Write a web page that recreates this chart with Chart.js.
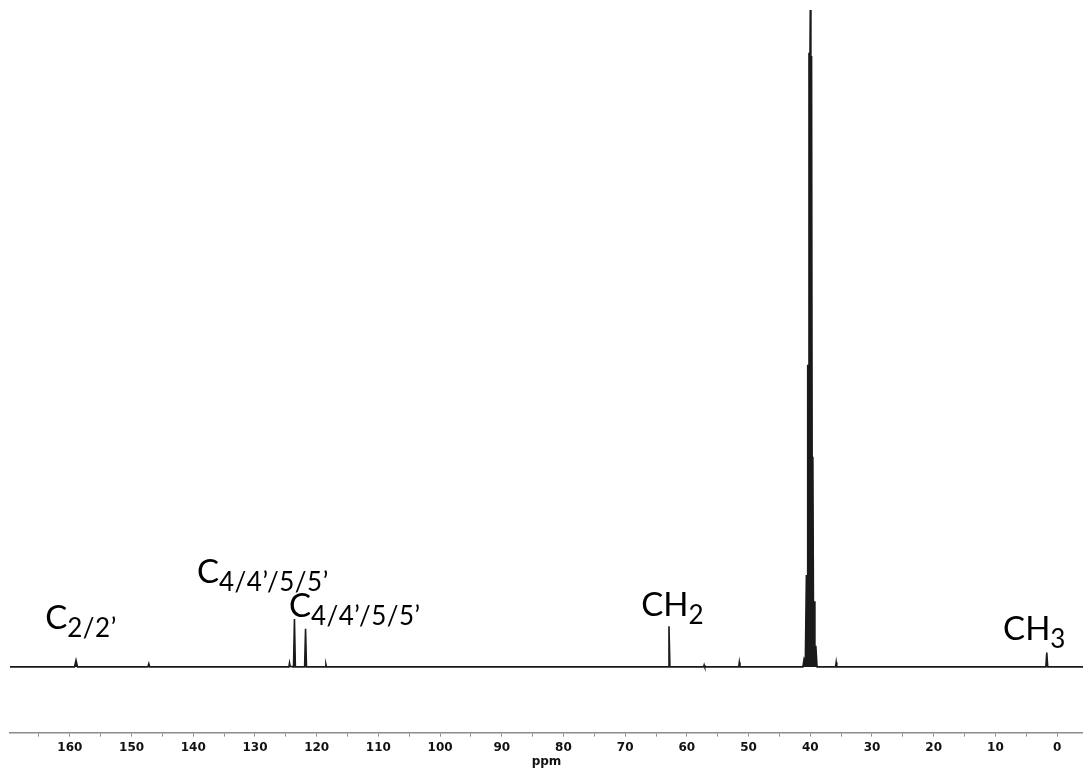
<!DOCTYPE html>
<html>
<head>
<meta charset="utf-8">
<script src="https://cdn.jsdelivr.net/npm/chart.js@4/dist/chart.umd.min.js"></script>
<style>
html,body{margin:0;padding:0;background:#fff;}
canvas{display:block;}
</style>
</head>
<body>
<canvas id="c" width="1083" height="769"></canvas>
<script>
// Chemical shift (ppm) and intensity of the 13C spectrum trace
const shiftPpm = [
  169.7, 159.25, 159.0, 158.75, 147.35, 147.2, 147.05,
  124.5, 124.4, 124.3, 123.75, 123.6, 123.45, 121.95, 121.8, 121.65,
  118.6, 118.5, 118.4, 63.05, 62.9, 62.75, 57.3, 57.2, 57.1,
  51.6, 51.5, 51.4, 41.2, 41.0, 40.8,
  40.63, 40.52, 40.42, 40.31, 40.21, 40.10, 40.00, 39.90, 39.79, 39.69, 39.58, 39.47, 39.37,
  39.25, 39.1, 38.9, 35.9, 35.8, 35.7, 1.82, 1.67, 1.52, -4.2
];
const intensity = [
  0, 0, 1.0, 0, 0, 0.5, 0,
  0, 0.6, 0.1, 0, 7.3, 0, 0, 5.8, 0,
  0, 0.4, 0, 0, 6.2, 0, 0, 0.3, 0,
  0, 0.7, 0, 0, 1.2, 0.8,
  14, 5, 46, 40, 93.5, 86, 100, 86, 93, 28, 32, 5, 10,
  1.5, 3.2, 0, 0, 0.7, 0, 0, 2.2, 0, 0
];
// Axis range and ticks
const axisMin = -4.2;
const axisMax = 169.7;
const tickStep = 5;
const labelStep = 10;
// Peak assignments: main text, subscript, anchor shift (ppm), anchor intensity
const peakNames = ["C", "C", "C", "CH", "CH"];
const peakSubs = ["2/2\u2019", "4/4\u2019/5/5\u2019", "4/4\u2019/5/5\u2019", "2", "3"];
const peakLabelPpm = [164.0, 139.4, 124.5, 67.4, 8.75];
const peakLabelY = [5.8, 12.7, 7.6, 7.8, 4.1];

const points = shiftPpm.map((x, i) => ({x: x, y: intensity[i]}));

const labelPlugin = {
  id: 'peakLabels',
  afterDatasetsDraw(chart) {
    const ctx = chart.ctx;
    const xs = chart.scales.x, ys = chart.scales.y;
    ctx.save();
    ctx.fillStyle = '#000';
    ctx.textBaseline = 'alphabetic';
    ctx.textAlign = 'left';
    peakNames.forEach((name, i) => {
      const px = xs.getPixelForValue(peakLabelPpm[i]);
      const py = ys.getPixelForValue(peakLabelY[i]);
      ctx.letterSpacing = '0px';
      ctx.font = '33px Lato';
      ctx.fillText(name, px, py);
      const w = ctx.measureText(name).width;
      ctx.font = '26px Lato';
      ctx.letterSpacing = '0.5px';
      ctx.fillText(peakSubs[i], px + w, py + 8);
    });
    ctx.restore();
  }
};

new Chart(document.getElementById('c'), {
  type: 'line',
  data: {
    datasets: [{
      data: points,
      borderColor: '#1a1a1a',
      backgroundColor: '#1a1a1a',
      borderWidth: 1.6,
      pointRadius: 0,
      tension: 0,
      fill: 'origin'
    }]
  },
  options: {
    responsive: false,
    devicePixelRatio: 1,
    animation: false,
    layout: {padding: {left: 10, right: 0, top: 10, bottom: 0}},
    plugins: {legend: {display: false}, tooltip: {enabled: false}, filler: {propagate: false}},
    scales: {
      x: {
        type: 'linear',
        reverse: true,
        min: axisMin,
        max: axisMax,
        border: {display: true, color: '#8c8c8c', width: 1.5},
        grid: {drawOnChartArea: false, drawTicks: true, tickLength: 4, tickColor: '#8c8c8c'},
        ticks: {
          stepSize: tickStep,
          includeBounds: false,
          autoSkip: false,
          maxRotation: 0,
          padding: 5,
          color: '#111',
          font: {family: 'DejaVu Sans', size: 12, weight: 'bold', lineHeight: 1.0},
          callback: (v) => (Math.round(v) % labelStep === 0 ? String(Math.round(v)) : '')
        },
        title: {
          display: true,
          text: 'ppm',
          color: '#111',
          padding: {top: -4, bottom: 0},
          font: {family: 'DejaVu Sans', size: 12, weight: 'bold'}
        }
      },
      y: {
        display: false,
        min: -10,
        max: 100
      }
    }
  },
  plugins: [labelPlugin]
});
</script>
</body>
</html>
